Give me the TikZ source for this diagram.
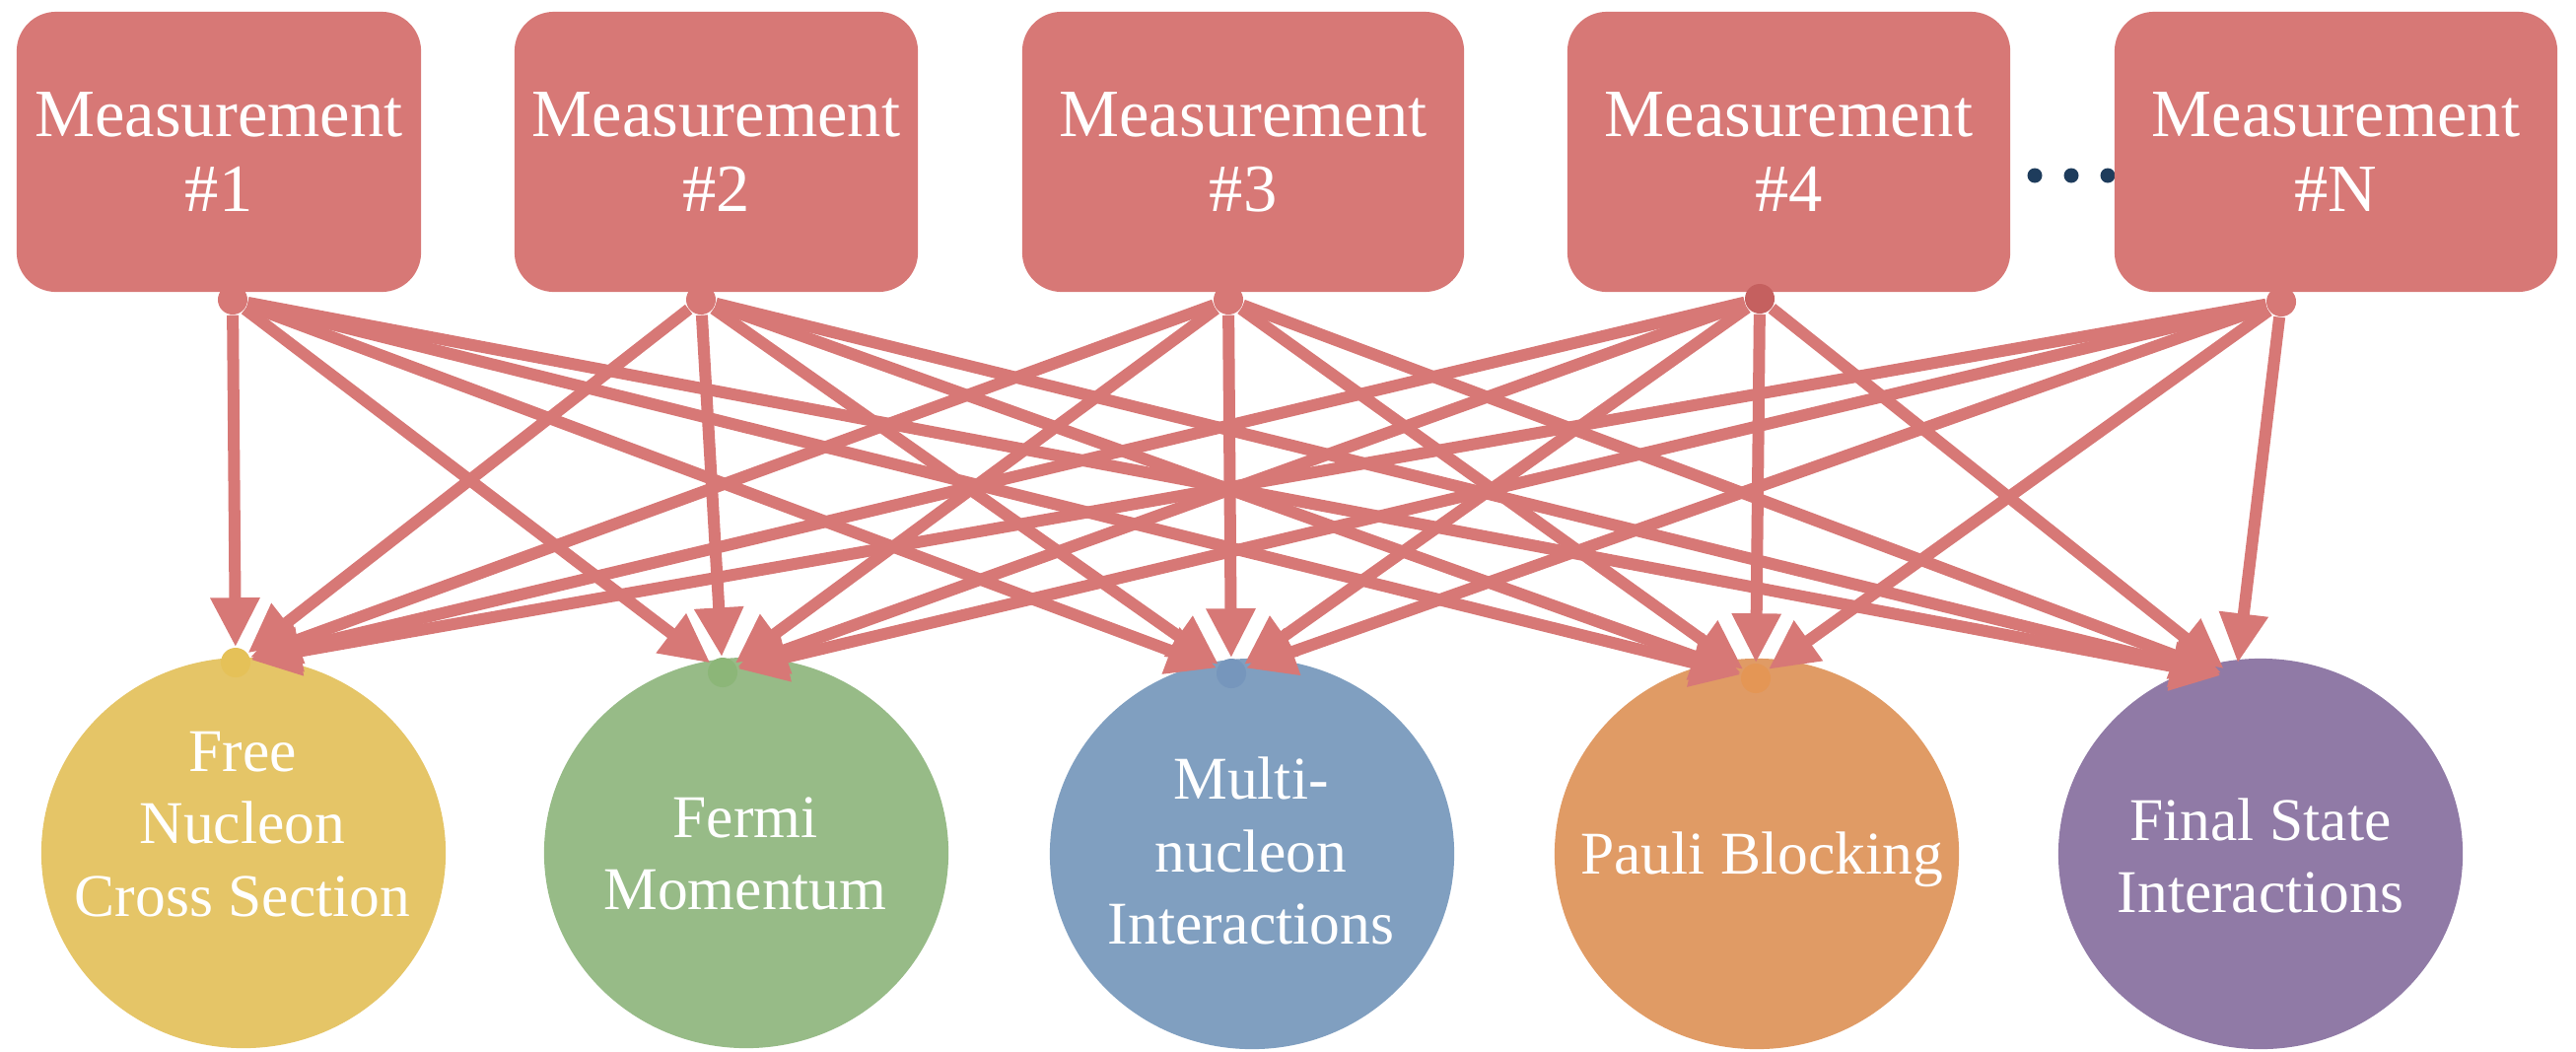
\documentclass[tikz,border=0pt]{standalone}
\usepackage{fontspec}
\setmainfont{Liberation Serif}
\usetikzlibrary{arrows.meta,shapes.geometric}

\definecolor{measred}{RGB}{215,120,118}
\definecolor{portdark}{RGB}{197,96,95}
\definecolor{ellipsisblue}{RGB}{30,60,92}
\definecolor{effyellow}{RGB}{229,197,103}
\definecolor{effgreen}{RGB}{151,187,135}
\definecolor{effblue}{RGB}{128,159,192}
\definecolor{efforange}{RGB}{224,155,101}
\definecolor{effpurple}{RGB}{144,122,166}
\definecolor{dotyellow}{RGB}{229,193,88}
\definecolor{dotgreen}{RGB}{140,182,120}
\definecolor{dotblue}{RGB}{118,150,188}
\definecolor{dotorange}{RGB}{228,150,85}

\begin{document}
\begin{tikzpicture}[x=0.01cm, y=-0.01cm,
  measbox/.style={rectangle, rounded corners=0.4cm, fill=measred, text=white,
    align=center, minimum height=2.84cm, inner sep=0pt,
    font=\fontsize{19.5}{21.6}\selectfont},
  effect/.style={ellipse, minimum width=4.1cm, minimum height=3.96cm, inner sep=0pt},
  efftext/.style={text=white, align=center, inner sep=0pt,
    font=\fontsize{17.5}{20.8}\selectfont},
  port/.style={circle, minimum size=0.3cm, inner sep=0pt},
  link/.style={draw=measred, line width=0.12cm,
    -{Triangle[length=0.5cm,width=0.47cm]}},
  moredot/.style={circle, fill=ellipsisblue, minimum size=0.15cm, inner sep=0pt}
]
\useasboundingbox (0,0) rectangle (2613,1066);

% ellipsis between the fourth and the last measurement
\node[moredot] (e1) at (2064,178) {};
\node[moredot] (e2) at (2101,178) {};
\node[moredot] (e3) at (2138,178) {};

% measurements
\node[measbox, minimum width=4.10cm] (m1) at (222,154)  {Measurement\\\#1};
\node[measbox, minimum width=4.09cm] (m2) at (726.5,154) {Measurement\\\#2};
\node[measbox, minimum width=4.48cm] (m3) at (1261,154) {Measurement\\\#3};
\node[measbox, minimum width=4.49cm] (m4) at (1814.5,154) {Measurement\\\#4};
\node[measbox, minimum width=4.49cm] (m5) at (2369.5,154) {Measurement\\\#N};

% nuclear effects
\node[effect, fill=effyellow] (c1) at (247,865) {};
\node[effect, fill=effgreen]  (c2) at (757,865) {};
\node[effect, fill=effblue]   (c3) at (1270,866) {};
\node[effect, fill=efforange] (c4) at (1782,866) {};
\node[effect, fill=effpurple] (c5) at (2293,866) {};

\node[efftext] (t1) at (246,836)  {Free\\Nucleon\\Cross Section};
\node[efftext] (t2) at (756,866)  {Fermi\\Momentum};
\node[efftext] (t3) at (1269,863) {Multi-\\nucleon\\Interactions};
\node[efftext, text depth=0pt] (t4) at (1787,865) {Pauli Blocking};
\node[efftext] (t5) at (2293,868) {Final State\\Interactions};

% connection points on the effects
\node[port, fill=dotyellow] (d1) at (239,672) {};
\node[port, fill=dotgreen]  (d2) at (733,682) {};
\node[port, fill=dotblue]   (d3) at (1249,683) {};
\node[port, fill=dotorange] (d4) at (1781,688) {};
\node[port]                 (d5) at (2268,688) {};

% connection points on the measurements
\node[port, fill=measred]  (b1) at (236,304) {};
\node[port, fill=measred]  (b2) at (711,304) {};
\node[port, fill=measred]  (b3) at (1246,304) {};
\node[port, fill=portdark] (b4) at (1785,303) {};
\node[port, fill=measred]  (b5) at (2314,306) {};

% every measurement constrains every effect
\foreach \s in {b1,b2,b3,b4,b5}
  \foreach \t in {d1,d2,d3,d4,d5}
    \draw[link] (\s) -- (\t);
\end{tikzpicture}
\end{document}
